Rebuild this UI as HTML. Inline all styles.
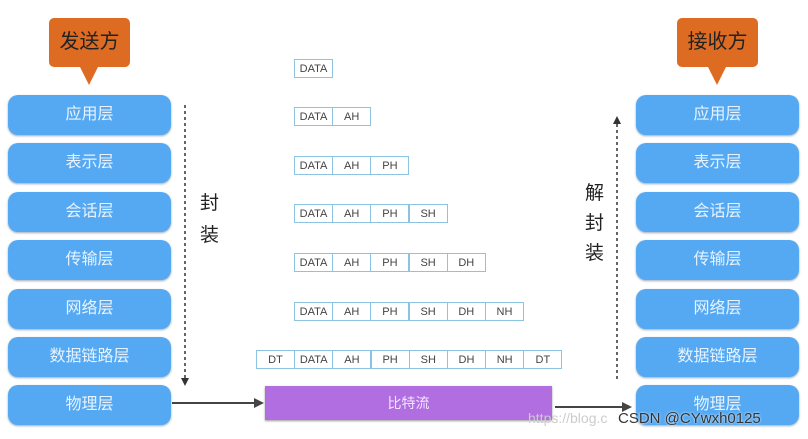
<!DOCTYPE html><html><head><style>
body{margin:0;width:808px;height:439px;background:#fff;position:relative;overflow:hidden;font-family:"Liberation Sans","Noto Sans CJK SC",sans-serif}
.b{position:absolute;width:163px;height:40px;background:#55a9f2;border-radius:10px;color:#e8f3ff;font-size:16px;text-align:center;line-height:40px;box-shadow:0 1px 2px #9ab}
.c{position:absolute;height:19px;border:1px solid #8cc3e0;color:#444;font-size:11px;line-height:19px;text-align:center;box-sizing:border-box;width:39px;background:#fff}
.o{position:absolute;width:81px;height:49px;background:#de6b22;border-radius:5px;color:#222;font-size:20px;line-height:49px;text-align:center}
.o:after{content:"";position:absolute;left:31px;top:49px;border:9px solid transparent;border-top:18px solid #de6b22;border-bottom:0}
.t{position:absolute;font-size:19px;color:#222}
</style></head><body>
<div class="o" style="left:49px;top:18px">发送方</div>
<div class="o" style="left:677px;top:18px">接收方</div>
<div id="L"></div>
<script>
var n=["应用层","表示层","会话层","传输层","网络层","数据链路层","物理层"],y=[95,143,192,240,289,337,385],h="";
for(var i=0;i<7;i++){h+='<div class="b" style="left:8px;top:'+y[i]+'px">'+n[i]+'</div><div class="b" style="left:636px;top:'+y[i]+'px">'+n[i]+'</div>';}
var labs=["DATA","AH","PH","SH","DH","NH"],ry=[59,107,156,204,253,302];
for(var r=0;r<6;r++){for(var k=0;k<=r;k++)h+='<div class="c" style="left:'+(294+k*38.2)+'px;top:'+ry[r]+'px">'+labs[k]+'</div>';}
var l7=["DT","DATA","AH","PH","SH","DH","NH","DT"];
for(var k=0;k<8;k++)h+='<div class="c" style="left:'+(256+k*38.2)+'px;top:350px">'+l7[k]+'</div>';
document.getElementById("L").innerHTML=h;
</script>
<div style="position:absolute;left:265px;top:386px;width:287px;height:34px;background:#b06ee0;color:#f3e6ff;font-size:14px;text-align:center;line-height:34px;box-shadow:0 1px 2px #999">比特流</div>
<svg width="808" height="439" style="position:absolute;left:0;top:0">
<line x1="185" y1="105" x2="185" y2="378" stroke="#333" stroke-width="1.5" stroke-dasharray="3,3"/>
<path d="M181,378 L185,386 L189,378Z" fill="#333"/>
<line x1="617" y1="124" x2="617" y2="380" stroke="#333" stroke-width="1.5" stroke-dasharray="3,3"/>
<path d="M613,124 L617,116 L621,124Z" fill="#333"/>
<line x1="172" y1="403" x2="256" y2="403" stroke="#444" stroke-width="2"/>
<path d="M254,398 L264,403 L254,408Z" fill="#444"/>
<line x1="555" y1="407" x2="624" y2="407" stroke="#444" stroke-width="2"/>
<path d="M622,402 L632,407 L622,412Z" fill="#444"/>
</svg>
<div class="t" style="left:200px;top:188px">封</div>
<div class="t" style="left:200px;top:220px">装</div>
<div class="t" style="left:585px;top:178px">解</div>
<div class="t" style="left:585px;top:208px">封</div>
<div class="t" style="left:585px;top:238px">装</div>
<div style="position:absolute;left:528px;top:410px;color:#ccc;font-size:14px">https://blog.c</div>
<div style="position:absolute;left:618px;top:410px;color:#333;font-size:15px;text-shadow:0 0 2px #fff">CSDN @CYwxh0125</div>
</body></html>
